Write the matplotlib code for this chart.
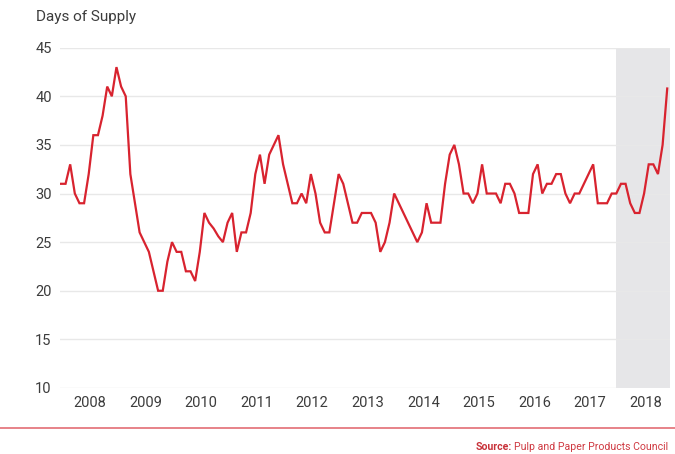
import matplotlib
matplotlib.use("Agg")
import matplotlib.pyplot as plt

plt.rcParams["font.family"] = ["Roboto", "DejaVu Sans"]

# monthly days of supply, Jan 2008 .. Dec 2018
days = [31, 31, 33, 30, 29, 29, 32, 36, 36, 38, 41, 40,
        43, 41, 40, 32, 29, 26, 25, 24, 22, 20, 20, 23,
        25, 24, 24, 22, 22, 21, 24, 28, 27, 26.4, 25.6, 25,
        27, 28, 24, 26, 26, 28, 32, 34, 31, 34, 35, 36,
        33, 31, 29, 29, 30, 29, 32, 30, 27, 26, 26, 29,
        32, 31, 29, 27, 27, 28, 28, 28, 27, 24, 25, 27,
        30, 29, 28, 27, 26, 25, 26, 29, 27, 27, 27, 31,
        34, 35, 33, 30, 30, 29, 30, 33, 30, 30, 30, 29,
        31, 31, 30, 28, 28, 28, 32, 33, 30, 31, 31, 32,
        32, 30, 29, 30, 30, 31, 32, 33, 29, 29, 29, 30,
        30, 31, 31, 29, 28, 28, 30, 33, 33, 32, 35, 40.8]
years = list(range(2008, 2019))
yticks = [10, 15, 20, 25, 30, 35, 40, 45]

months = list(range(len(days)))
red = "#d8232f"
txt = "#3c3c3c"

fig = plt.figure(figsize=(6.75, 4.54), dpi=100)
ax = fig.add_axes([0.0889, 0.1454, 0.9037, 0.7496])

xmax = 131.6
ax.axvspan(119.9, xmax, color="#e6e6e8", lw=0, zorder=0)
for v in yticks:
    ax.axhline(v, color="#e8e8e8", lw=1.0, zorder=1)
ax.plot(months, days, color=red, lw=1.6, zorder=3, solid_joinstyle="miter")

ax.set_xlim(-0.2, xmax)
ax.set_ylim(10, 45)
ax.set_yticks(yticks)
ax.set_yticklabels([str(v) for v in yticks], fontsize=10.5, color=txt)
ax.set_xticks([6.3 + 12 * k for k in range(len(years))])
ax.set_xticklabels([str(y) for y in years], fontsize=10.5, color=txt)
ax.tick_params(length=0, pad=6)
ax.tick_params(axis="x", pad=6)
for s in ax.spines.values():
    s.set_visible(False)

fig.text(36 / 675, 1 - 17 / 454, "Days of Supply", fontsize=11, color=txt,
         va="center", ha="left")

fig.add_artist(plt.Line2D([0, 1], [1 - 428 / 454] * 2, color="#e36d74", lw=1.2))
src = fig.text(668 / 675, 1 - 447 / 454, "Pulp and Paper Products Council",
               fontsize=7.6, color="#cf3a42", ha="right", va="center")
fig.canvas.draw()
bb = src.get_window_extent(fig.canvas.get_renderer())
fig.text((bb.x0 - 2) / fig.bbox.width, 1 - 447 / 454, "Source:", fontsize=7.6,
         color="#c8323a", ha="right", va="center", fontweight="bold")

fig.savefig("out.png", dpi=100)
